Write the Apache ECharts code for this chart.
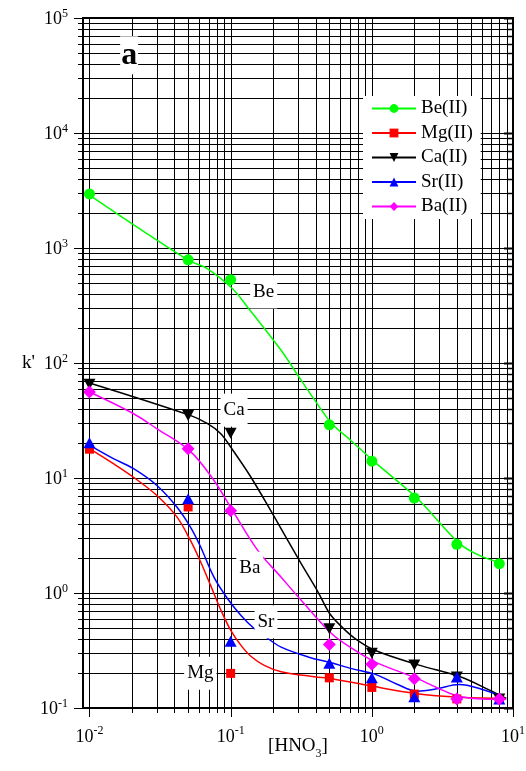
<!DOCTYPE html>
<html>
<head>
<meta charset="utf-8">
<script src="https://cdn.jsdelivr.net/npm/echarts@6/dist/echarts.min.js"></script>
<style>
  html, body { margin: 0; padding: 0; background: #fff; }
  #chart { width: 526px; height: 771px; }
</style>
</head>
<body>
<div id="chart"></div>
<script>
// Measured points: capacity factor k' versus nitric acid concentration
const acidConc = [0.01, 0.05, 0.1, 0.5, 1, 2, 4, 8];
const beK = [2950, 790, 530, 29, 14, 6.7, 2.65, 1.8];
const mgK = [17.8, 5.6, 0.2, 0.183, 0.151, 0.132, 0.12, 0.12];
const caK = [65.5, 35, 24.5, 0.49, 0.3, 0.236, 0.186, 0.12];
const srK = [20.3, 6.6, 0.38, 0.245, 0.183, 0.125, 0.186, 0.12];
const baK = [56, 18, 5.2, 0.356, 0.24, 0.18, 0.12, 0.12];

// Fitted curves
const beFitX = [0.01, 0.05, 0.0682, 0.1028, 0.1315, 0.2276, 0.299, 0.394, 0.518, 0.72, 1.045, 2.1, 4.23, 6.1, 8.6];
const beFitY = [2878, 783, 663, 444, 307, 129, 78.3, 47.5, 30, 20.9, 13.8, 6.63, 2.66, 2.06, 1.81];
const mgFitX = [0.01, 0.01466, 0.0204, 0.0299, 0.0416, 0.0518, 0.061, 0.072, 0.0848, 0.1, 0.118, 0.139, 0.173, 0.228, 0.392, 0.518, 1.0, 2.03, 4.2, 8.9];
const mgFitY = [18, 13.4, 10.2, 7.08, 4.59, 2.88, 1.89, 1.17, 0.723, 0.475, 0.352, 0.282, 0.235, 0.207, 0.187, 0.18, 0.155, 0.134, 0.124, 0.121];
const caFitX = [0.01, 0.0512, 0.0682, 0.0848, 0.1, 0.139, 0.204, 0.316, 0.416, 0.501, 0.61, 0.757, 1.05, 2.16, 4.27, 6.82, 8.96];
const caFitY = [67.1, 35.2, 29.8, 24.4, 18.6, 10.2, 4.59, 1.8, 1.02, 0.667, 0.51, 0.404, 0.318, 0.236, 0.186, 0.143, 0.121];
const srFitX = [0.01, 0.01466, 0.0204, 0.0299, 0.0416, 0.0518, 0.061, 0.076, 0.0946, 0.118, 0.1466, 0.178, 0.228, 0.353, 0.518, 0.72, 1.05, 1.51, 2.1, 2.83, 4.16, 5.78, 8.49];
const srFitY = [19.3, 14.8, 12.1, 8.65, 5.6, 3.76, 2.55, 1.38, 0.901, 0.641, 0.491, 0.413, 0.338, 0.278, 0.247, 0.22, 0.197, 0.161, 0.14, 0.146, 0.16, 0.148, 0.125];
const baFitX = [0.01, 0.0204, 0.0299, 0.0512, 0.076, 0.1028, 0.155, 0.228, 0.316, 0.518, 0.72, 1.05, 2.1, 3.16, 4.27, 6.46, 8.96];
const baFitY = [56, 36.4, 26.9, 17.3, 9.57, 5.25, 2.36, 1.37, 0.865, 0.444, 0.331, 0.252, 0.18, 0.143, 0.125, 0.119, 0.119];

// Axis decades and mantissas for the log grid
const xDecades = [0.01, 0.1, 1];
const yDecades = [0.1, 1, 10, 100, 1000, 10000];
const mantissas = [1, 2, 3, 4, 5, 6, 7, 8, 9];
const xMax = 10, yMax = 100000;

// Curve tags and the panel letter
const tagNames = ['Be', 'Ca', 'Ba', 'Sr', 'Mg'];
const tagX = [0.1714, 0.1057, 0.1368, 0.178, 0.061];
const tagY = [415, 38.9, 1.64, 0.561, 0.201];
const panelLetter = 'a';
const panelX = 0.0191, panelY = 47400;

const FONT = '"Liberation Serif", "Times New Roman", "DejaVu Serif", serif';

function gridValues(decades, top) {
  const out = [];
  decades.forEach(d => mantissas.forEach(m => out.push(+(d * m).toPrecision(6))));
  out.push(top);
  return out;
}
const xGrid = gridValues(xDecades, xMax);
const yGrid = gridValues(yDecades, yMax);

function isDecade(v) {
  const l = Math.log10(v);
  return Math.abs(l - Math.round(l)) < 1e-6;
}

function expLabel(v) {
  if (!isDecade(v)) return '';
  return '{b|10}{s|' + Math.round(Math.log10(v)) + '}';
}
const expRich = {
  b: { fontFamily: FONT, fontSize: 18, color: '#000', verticalAlign: 'bottom' },
  s: { fontFamily: FONT, fontSize: 12, color: '#000', verticalAlign: 'bottom', padding: [0, 0, 9, 0] }
};

const crisp = p => Math.round(p) + 0.5;

// vertical grid lines with outward ticks under the bottom axis
function renderXGrid(params, api) {
  const v = api.value(0);
  const cs = params.coordSys;
  const x = crisp(api.coord([v, 1])[0]);
  const bottom = cs.y + cs.height;
  const len = isDecade(v) ? 9 : 5;
  const st = { stroke: '#000', lineWidth: 1 };
  return {
    type: 'group',
    children: [
      { type: 'line', shape: { x1: x, y1: cs.y, x2: x, y2: bottom }, style: st },
      { type: 'line', shape: { x1: x, y1: bottom, x2: x, y2: bottom + len }, style: st }
    ]
  };
}
// horizontal grid lines with outward ticks on the left, inward on the right
function renderYGrid(params, api) {
  const v = api.value(1);
  const cs = params.coordSys;
  const y = crisp(api.coord([1, v])[1]);
  const right = cs.x + cs.width;
  const major = isDecade(v);
  const len = major ? 9 : 5;
  const st = { stroke: '#000', lineWidth: 1 };
  return {
    type: 'group',
    children: [
      { type: 'line', shape: { x1: cs.x, y1: y, x2: right, y2: y }, style: st },
      { type: 'line', shape: { x1: cs.x - len, y1: y, x2: cs.x, y2: y }, style: st },
      { type: 'line', shape: { x1: right - len, y1: y, x2: right, y2: y }, style: { stroke: '#000', lineWidth: major ? 2 : 1.5 } }
    ]
  };
}

// text tags on a white box, placed in data coordinates
function tagRenderer(texts, fontSize, weight, pad) {
  return function (params, api) {
    const p = api.coord([api.value(0), api.value(1)]);
    return {
      type: 'text', x: p[0], y: p[1],
      style: {
        text: texts[params.dataIndex], fill: '#000',
        font: weight + ' ' + fontSize + 'px ' + FONT,
        align: 'center', verticalAlign: 'middle',
        backgroundColor: '#fff', padding: pad
      }
    };
  };
}

const zipPts = (xs, ys) => xs.map((x, i) => [x, ys[i]]);

const metals = [
  { name: 'Be(II)', color: '#00ff00', symbol: 'circle', size: 11, rotate: 0, pts: beK, fx: beFitX, fy: beFitY },
  { name: 'Mg(II)', color: '#ff0000', symbol: 'rect', size: 9, rotate: 0, pts: mgK, fx: mgFitX, fy: mgFitY },
  { name: 'Ca(II)', color: '#000000', symbol: 'triangle', size: [12, 11], rotate: 180, pts: caK, fx: caFitX, fy: caFitY },
  { name: 'Sr(II)', color: '#0000ff', symbol: 'triangle', size: [12, 11], rotate: 0, pts: srK, fx: srFitX, fy: srFitY },
  { name: 'Ba(II)', color: '#ff00ff', symbol: 'diamond', size: 13, rotate: 0, pts: baK, fx: baFitX, fy: baFitY }
];

const series = [
  { type: 'custom', renderItem: renderXGrid, data: xGrid.map(v => [v, 1]), clip: false, silent: true, z: 0 },
  { type: 'custom', renderItem: renderYGrid, data: yGrid.map(v => [1, v]), clip: false, silent: true, z: 0 }
];
metals.forEach(m => {
  series.push({
    type: 'line', name: m.name, data: zipPts(m.fx, m.fy), smooth: 0.35,
    symbol: m.symbol, symbolRotate: m.rotate, showSymbol: false,
    lineStyle: { color: m.color, width: 1.5 }, itemStyle: { color: m.color },
    silent: true, z: 3
  });
});
metals.forEach(m => {
  series.push({
    type: 'scatter', name: m.name, data: zipPts(acidConc, m.pts),
    symbol: m.symbol, symbolSize: m.size, symbolRotate: m.rotate,
    itemStyle: { color: m.color, opacity: 1 }, silent: true, z: 4
  });
});
series.push({
  type: 'custom', silent: true, z: 5, clip: false,
  renderItem: tagRenderer(tagNames, 19, 'normal', [7, 3]),
  data: zipPts(tagX, tagY)
});
series.push({
  type: 'custom', silent: true, z: 5, clip: false,
  renderItem: tagRenderer([panelLetter], 32, 'bold', [3, 1]),
  data: [[panelX, panelY]]
});

const chart = echarts.init(document.getElementById('chart'), null, { renderer: 'canvas' });
chart.setOption({
  animation: false,
  backgroundColor: '#fff',
  grid: {
    left: 83, right: 13, top: 18, bottom: 63, outerBoundsMode: 'none', containLabel: false,
    show: true, borderColor: '#000', borderWidth: 2, backgroundColor: 'transparent', z: 6
  },
  xAxis: {
    type: 'log', min: 0.009, max: xMax, logBase: 10,
    axisLine: { show: false }, axisTick: { show: false }, splitLine: { show: false },
    axisLabel: { formatter: expLabel, rich: expRich, margin: 17, showMinLabel: false, hideOverlap: false },
    name: '{t|[HNO}{u|3}{t|]}', nameLocation: 'middle', nameGap: 29, nameMoveOverlap: false,
    nameTextStyle: {
      rich: {
        t: { fontFamily: FONT, fontSize: 19, color: '#000', verticalAlign: 'top' },
        u: { fontFamily: FONT, fontSize: 12, color: '#000', verticalAlign: 'top', padding: [11, 0, 0, 0] }
      }
    }
  },
  yAxis: {
    type: 'log', min: 0.1, max: yMax, logBase: 10,
    axisLine: { show: false }, axisTick: { show: false }, splitLine: { show: false },
    axisLabel: { formatter: expLabel, rich: expRich, margin: 15 },
    name: "k'", nameLocation: 'middle', nameRotate: 0, nameGap: 48, nameMoveOverlap: false,
    nameTextStyle: { fontFamily: FONT, fontSize: 19, color: '#000' }
  },
  legend: {
    orient: 'vertical', left: 363, top: 96, z: 10,
    backgroundColor: '#fff', padding: [3, 8, 3, 8],
    itemWidth: 44, itemHeight: 11, itemGap: 5.5,
    textStyle: { fontFamily: FONT, fontSize: 19, color: '#000' },
    data: metals.map(m => m.name),
    selectedMode: false
  },
  series: series
});
</script>
</body>
</html>
